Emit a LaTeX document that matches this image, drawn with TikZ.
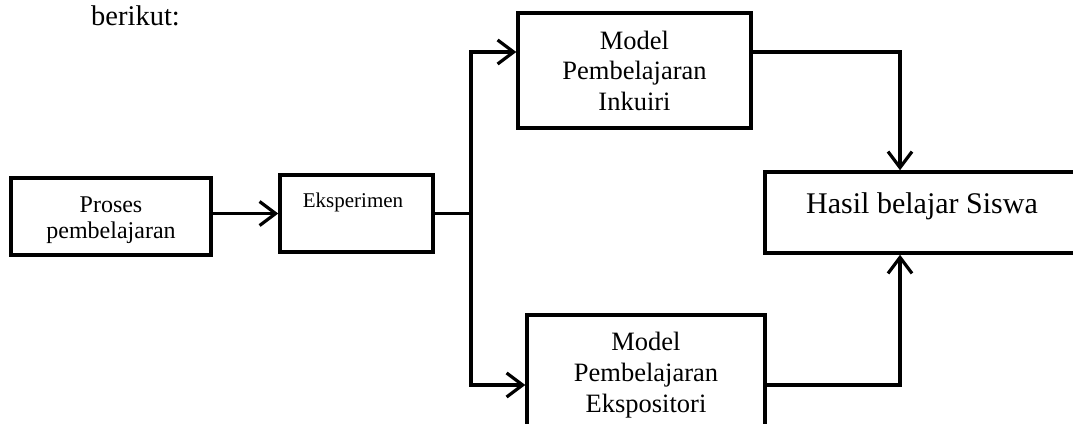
\documentclass[tikz,border=0pt]{standalone}
\usepackage{fontspec}
\setmainfont{Liberation Serif}
\usetikzlibrary{arrows.meta}
\tikzset{
  boxnode/.style={draw=black, line width=3.5pt, rectangle, inner sep=0pt, fill=none},
  conn/.style={draw=black, line width=3.2pt},
  arr/.style={conn, -{Straight Barb[length=16pt, width=24pt, line width=3.2pt]}},
  txt/.style={anchor=base, inner sep=0pt, text=black},
}
\begin{document}
\begin{tikzpicture}[x=1pt,y=-1pt]
\useasboundingbox (0,0) rectangle (1073,423);
\clip (0,0) rectangle (1073,423);
\fill[white] (0,0) rectangle (1073,423);

% heading text
\node[txt, anchor=base west] (berikut) at (91,25) {\fontsize{28.5}{30}\selectfont berikut:};

% boxes
\node[boxnode, minimum width=200pt, minimum height=77pt] (proses) at (111,216.5) {};
\node[boxnode, minimum width=153pt, minimum height=77pt] (eks) at (356.5,213.5) {};
\node[boxnode, minimum width=233pt, minimum height=115pt] (ink) at (634.5,70.5) {};
\node[boxnode, minimum width=238pt, minimum height=125pt] (exp) at (646,377.5) {};
\node[boxnode, minimum width=325pt, minimum height=81pt] (has) at (927.5,212.5) {};

% texts
\node[txt] (tp1) at (111,212) {\fontsize{24}{26}\selectfont Proses};
\node[txt] (tp2) at (111,238) {\fontsize{24}{26}\selectfont pembelajaran};
\node[txt] (te1) at (353,207) {\fontsize{21}{24}\selectfont Eksperimen};
\node[txt] (ti1) at (634.5,49) {\fontsize{26.5}{30}\selectfont Model};
\node[txt] (ti2) at (634.5,79) {\fontsize{26.5}{30}\selectfont Pembelajaran};
\node[txt] (ti3) at (634.5,110) {\fontsize{26.5}{30}\selectfont Inkuiri};
\node[txt] (tx1) at (646,350) {\fontsize{26.5}{30}\selectfont Model};
\node[txt] (tx2) at (646,381) {\fontsize{26.5}{30}\selectfont Pembelajaran};
\node[txt] (tx3) at (646,412) {\fontsize{26.5}{30}\selectfont Ekspositori};
\node[txt] (th1) at (922,213) {\fontsize{30}{34}\selectfont Hasil belajar Siswa};

% helper coordinates
\coordinate (split) at (471,213.5);
\coordinate (topy) at (0,52);
\coordinate (boty) at (0,385);
\coordinate (downx) at (900,0);

% connectors
\draw[arr] (proses.east |- eks.west) -- (eks.west);
\draw[conn] (eks.east) -- (split);
\draw[arr] (split) |- (ink.west |- topy);
\draw[arr] (split) |- (exp.west |- boty);
\draw[arr] (ink.east |- topy) -| (has.north -| downx);
\draw[arr] (exp.east |- boty) -| (has.south -| downx);
\end{tikzpicture}
\end{document}
